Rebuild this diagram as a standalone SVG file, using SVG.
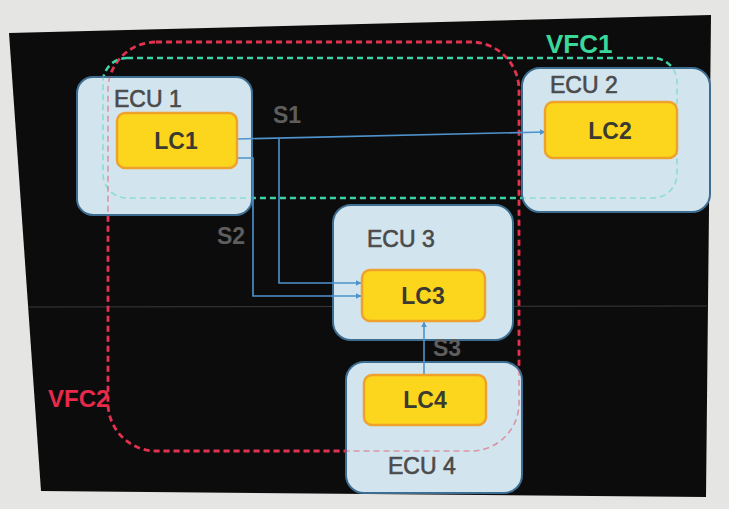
<svg xmlns="http://www.w3.org/2000/svg" width="729" height="509" viewBox="0 0 729 509">
  <defs>
    <marker id="arr" viewBox="0 0 10 10" refX="9" refY="5" markerWidth="6" markerHeight="6" orient="auto" markerUnits="userSpaceOnUse">
      <path d="M0,0 L10,5 L0,10 z" fill="#4f93cc"/>
    </marker>
    <style>
      .ecu { fill: #d2e5ef; stroke: #3d6e92; stroke-width: 2; }
      .lc { fill: #fbd61c; stroke: #eea22c; stroke-width: 2.5; }
      .ecut { font-family: "Liberation Sans", Arial, sans-serif; font-size: 23px; fill: #4a4a4a; stroke: #4a4a4a; stroke-width: 0.6; }
      .lct { font-family: "Liberation Sans", Arial, sans-serif; font-size: 23px; font-weight: bold; fill: #3b3a30; text-anchor: middle; }
      .sig { font-family: "Liberation Sans", Arial, sans-serif; font-size: 23px; font-weight: bold; fill: #5e5e5e; }
      .conn { fill: none; stroke: #4f93cc; stroke-width: 1.6; }
      .vfc1 { fill: none; stroke: #3fd3a6; stroke-width: 2.6; stroke-dasharray: 6 4; }
      .vfc2 { fill: none; stroke: #e3324f; stroke-width: 2.8; stroke-dasharray: 6 4; }
      .faint { opacity: 0.45; stroke-width: 1.6; }
    </style>
  </defs>

  <rect x="0" y="0" width="729" height="509" fill="#e5e5e3"/>
  <polygon points="9,33 711,15 706,497 41,491" fill="#0d0c0c"/>
  <line x1="28" y1="307" x2="707" y2="306" stroke="#3a3a3a" stroke-width="1"/>

  <g id="VFC2">
    <rect x="108" y="42" width="411" height="409" rx="48" ry="48" class="vfc2"/>
    <text x="48" y="407" font-family="Liberation Sans, Arial, sans-serif" font-size="24" font-weight="bold" fill="#e8294a">VFC2</text>
  </g>
  <g id="VFC1">
    <rect x="103" y="58" width="574" height="140" rx="24" ry="24" class="vfc1"/>
    <text x="546" y="53" font-family="Liberation Sans, Arial, sans-serif" font-size="26" font-weight="bold" fill="#3ad89b">VFC1</text>
  </g>

  <g id="ECU1">
    <rect x="77" y="77" width="175" height="138" rx="16" class="ecu"/>
    <text x="114" y="107" class="ecut">ECU 1</text>
  </g>
  <g id="ECU2">
    <rect x="522" y="68" width="188" height="144" rx="18" class="ecu"/>
    <text x="550" y="93" class="ecut" font-size="24">ECU 2</text>
  </g>
  <g id="ECU3">
    <rect x="333" y="205" width="180" height="135" rx="18" class="ecu"/>
    <text x="367" y="247" class="ecut">ECU 3</text>
  </g>
  <g id="ECU4">
    <rect x="346" y="362" width="176" height="131" rx="18" class="ecu"/>
    <text x="388" y="474" class="ecut">ECU 4</text>
  </g>

  <g id="regions-over">
    <rect x="108" y="42" width="411" height="409" rx="48" ry="48" class="vfc2 faint"/>
    <rect x="103" y="58" width="574" height="140" rx="24" ry="24" class="vfc1 faint"/>
  </g>

  <g id="connectors">
    <path d="M237,139 L545,132" class="conn" marker-end="url(#arr)"/>
    <path d="M279,139 V283 H361" class="conn" marker-end="url(#arr)"/>
    <path d="M237,158 H253 V296 H361" class="conn" marker-end="url(#arr)"/>
    <path d="M424,375 V322" class="conn" marker-end="url(#arr)"/>
    <text x="273" y="123" class="sig">S1</text>
    <text x="217" y="244" class="sig">S2</text>
    <text x="433" y="356" class="sig">S3</text>
  </g>

  <g id="LC1">
    <rect x="117" y="113" width="120" height="55" rx="8" class="lc"/>
    <text x="176" y="149" class="lct">LC1</text>
  </g>
  <g id="LC2">
    <rect x="545" y="102" width="132" height="56" rx="8" class="lc"/>
    <text x="610" y="139" class="lct">LC2</text>
  </g>
  <g id="LC3">
    <rect x="362" y="270" width="123" height="51" rx="8" class="lc"/>
    <text x="423" y="304" class="lct">LC3</text>
  </g>
  <g id="LC4">
    <rect x="364" y="375" width="122" height="50" rx="8" class="lc"/>
    <text x="425" y="408" class="lct">LC4</text>
  </g>
</svg>
